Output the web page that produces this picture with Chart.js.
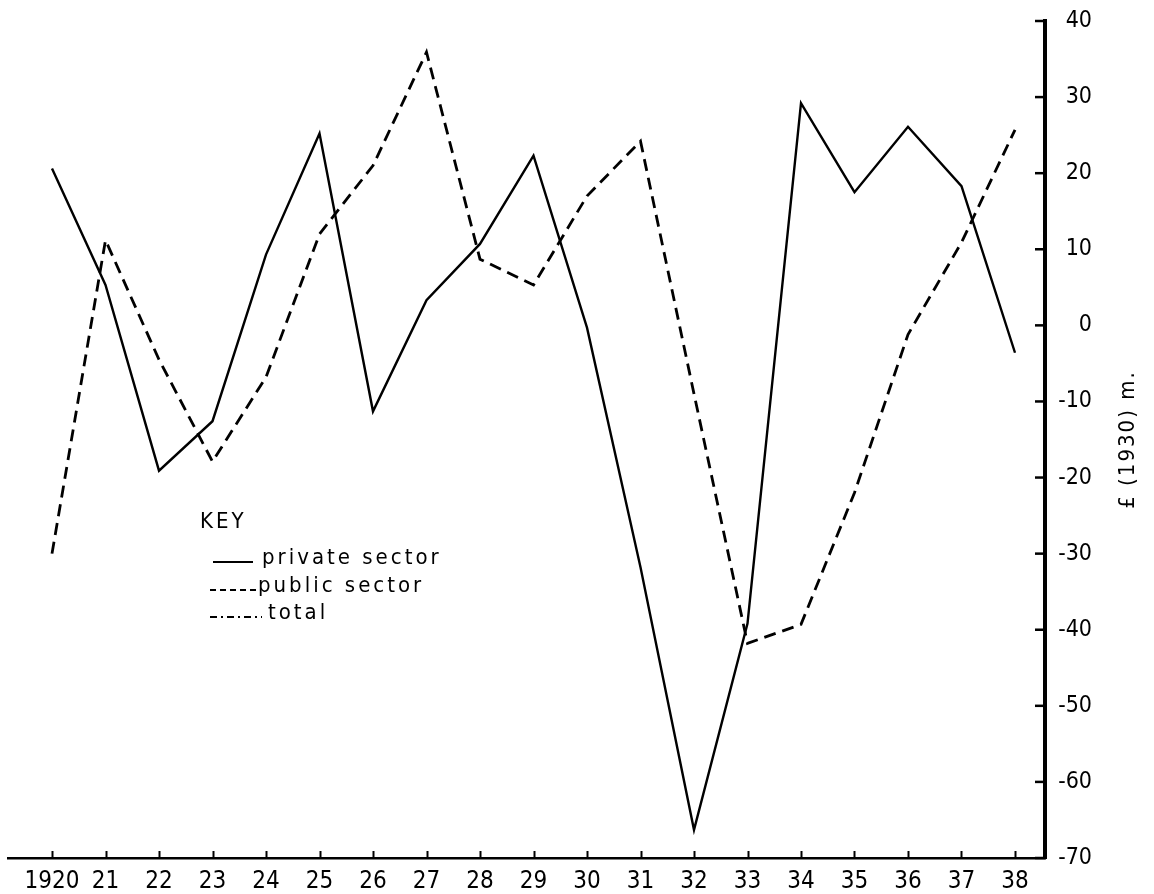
<!DOCTYPE html>
<html>
<head>
<meta charset="utf-8">
<script src="https://cdn.jsdelivr.net/npm/chart.js@4/dist/chart.umd.min.js"></script>
<style>
  html, body { margin: 0; padding: 0; background: #fff; }
  #wrap { width: 1154px; height: 894px; position: relative; }
</style>
</head>
<body>
<div id="wrap"><canvas id="c" width="1154" height="894"></canvas></div>
<script>
// Years 1920–1938 and investment change in £(1930) m.
const years = [1920, 1921, 1922, 1923, 1924, 1925, 1926, 1927, 1928, 1929,
               1930, 1931, 1932, 1933, 1934, 1935, 1936, 1937, 1938];
const privateSector = [20.6, 5.3, -19.1, -12.6, 9.3, 25.2, -11.3, 3.3, 10.7, 22.3,
                       -0.3, -31.8, -66.3, -39.2, 29.2, 17.5, 26.1, 18.3, -3.6];
const publicSector = [-30.0, 11.2, -4.5, -17.9, -6.8, 12.0, 21.0, 35.9, 8.7, 5.3,
                      17.0, 24.2, -9.0, -41.8, -39.3, -22.0, -1.2, 10.9, 25.7];
const yTicks = [40, 30, 20, 10, 0, -10, -20, -30, -40, -50, -60, -70];
const yearLabels = ['1920', '21', '22', '23', '24', '25', '26', '27', '28', '29',
                    '30', '31', '32', '33', '34', '35', '36', '37', '38'];
const keyTitle = 'KEY';
const keyLabels = ['private sector', 'public sector', 'total'];
const axisTitle = '£ (1930) m.';

const FONT = '"DejaVu Sans Condensed", "DejaVu Sans", sans-serif';

const toPoints = vals => vals.map((v, i) => ({ x: years[i], y: v }));

// Inward tick marks, key box and rotated axis title
const decorations = {
  id: 'decorations',
  afterDraw(chart) {
    const { ctx, scales: { x, y }, chartArea: a } = chart;
    ctx.save();
    ctx.strokeStyle = '#000';
    ctx.lineCap = 'butt';
    // x ticks pointing up from the axis line
    ctx.lineWidth = 2;
    years.forEach(yr => {
      const px = Math.round(x.getPixelForValue(yr)) + 0.5;
      ctx.beginPath();
      ctx.moveTo(px, a.bottom);
      ctx.lineTo(px, a.bottom - 7);
      ctx.stroke();
    });
    // y ticks pointing left from the axis line
    ctx.lineWidth = 2.5;
    yTicks.forEach(v => {
      const py = y.getPixelForValue(v);
      ctx.beginPath();
      ctx.moveTo(a.right - 10, py);
      ctx.lineTo(a.right, py);
      ctx.stroke();
    });

    // key
    ctx.fillStyle = '#000';
    ctx.textBaseline = 'middle';
    ctx.textAlign = 'left';
    ctx.font = '22px ' + FONT;
    ctx.letterSpacing = '3px';
    ctx.fillText(keyTitle, 200, 522);

    const rows = [
      { y: 558, dash: [], x0: 213, x1: 253, tx: 262 },
      { y: 586, dash: [6, 4], x0: 210, x1: 256, tx: 258 },
      { y: 613, dash: [7, 4, 2, 4], x0: 210, x1: 262, tx: 268 }
    ];
    rows.forEach((r, i) => {
      ctx.beginPath();
      ctx.setLineDash(r.dash);
      ctx.lineWidth = 2;
      ctx.moveTo(r.x0, r.y + 4);
      ctx.lineTo(r.x1, r.y + 4);
      ctx.stroke();
      ctx.setLineDash([]);
      ctx.fillText(keyLabels[i], r.tx, r.y);
    });

    // axis title, reading upwards
    ctx.letterSpacing = '2px';
    ctx.font = '22px ' + FONT;
    ctx.translate(1128, (a.top + a.bottom) / 2);
    ctx.rotate(-Math.PI / 2);
    ctx.textAlign = 'center';
    ctx.fillText(axisTitle, 0, 0);
    ctx.restore();
  }
};

new Chart(document.getElementById('c'), {
  type: 'line',
  data: {
    datasets: [
      {
        label: keyLabels[0],
        data: toPoints(privateSector),
        borderColor: '#000',
        borderWidth: 2.4,
        pointRadius: 0,
        tension: 0,
        fill: false
      },
      {
        label: keyLabels[1],
        data: toPoints(publicSector),
        borderColor: '#000',
        borderWidth: 2.8,
        borderDash: [12, 7],
        pointRadius: 0,
        tension: 0,
        fill: false
      }
    ]
  },
  options: {
    responsive: false,
    animation: false,
    devicePixelRatio: 1,
    layout: { padding: { left: 8, top: 21, right: 62, bottom: 0 } },
    plugins: { legend: { display: false }, tooltip: { enabled: false } },
    scales: {
      x: {
        type: 'linear',
        position: 'bottom',
        min: 1920 - 44 / 53.5,
        max: 1938 + 30 / 53.5,
        afterFit: s => { s.height = 36; },
        afterBuildTicks: s => { s.ticks = years.map(v => ({ value: v })); },
        grid: { display: false },
        border: { display: true, color: '#000', width: 2.5 },
        ticks: {
          autoSkip: false,
          maxRotation: 0,
          padding: 1,
          color: '#000',
          font: { family: FONT, size: 24 },
          callback: (v) => yearLabels[years.indexOf(v)] ?? ''
        }
      },
      y: {
        type: 'linear',
        position: 'right',
        min: -70,
        max: 40,
        afterFit: s => { s.width = 47; },
        afterBuildTicks: s => { s.ticks = yTicks.map(v => ({ value: v })); },
        grid: { display: false },
        border: { display: true, color: '#000', width: 4 },
        ticks: {
          autoSkip: false,
          crossAlign: 'far',
          padding: 4,
          color: '#000',
          font: { family: FONT, size: 23 },
          callback: v => (v < 0 ? '-' + Math.abs(v) : String(v))
        }
      }
    }
  },
  plugins: [decorations]
});
</script>
</body>
</html>
